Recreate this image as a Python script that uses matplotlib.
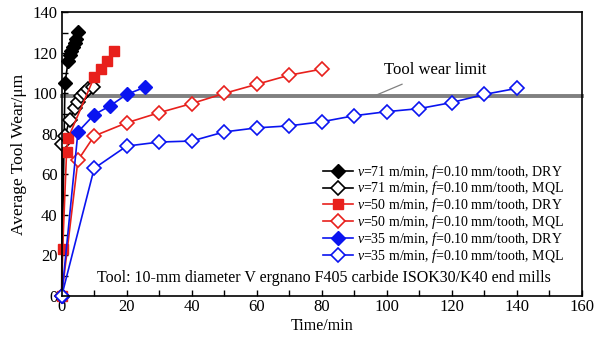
import matplotlib
matplotlib.use("Agg")
import matplotlib.pyplot as plt
from matplotlib.ticker import MultipleLocator

plt.rcParams['font.family'] = ['Liberation Serif', 'DejaVu Serif']
plt.rcParams['mathtext.fontset'] = 'custom'
plt.rcParams['mathtext.rm'] = 'Liberation Serif'
plt.rcParams['mathtext.it'] = 'Liberation Serif:italic'

# v=71 DRY
t71_dry = [0, 1, 2, 2.5, 3, 3.5, 4, 4.5, 5]
w71_dry = [0, 105, 116, 119, 121, 123, 125, 127, 130.5]
# v=71 MQL
t71_mql = [0, 0.2, 1, 2.5, 4, 5, 6, 7, 8, 9.5]
w71_mql = [0, 75, 79, 87, 93, 96, 98.5, 100, 102, 103]
# v=50 DRY
t50_dry = [0, 0.3, 1.5, 2, 10, 12, 14, 16]
w50_dry = [0, 23, 71, 78, 108, 112, 116, 121]
# v=50 MQL
t50_mql = [0, 5, 10, 20, 30, 40, 50, 60, 70, 80]
w50_mql = [0, 67, 79, 85.5, 90.5, 95, 100, 104.5, 109, 112]
# v=35 DRY
t35_dry = [0, 5, 10, 15, 20, 25.5]
w35_dry = [0, 81, 89.5, 94, 99.5, 103]
# v=35 MQL
t35_mql = [0, 10, 20, 30, 40, 50, 60, 70, 80, 90, 100, 110, 120, 130, 140]
w35_mql = [0, 63, 74, 76, 76.5, 81, 83, 84, 86, 89, 91, 92.5, 95.5, 99.5, 102.5]

wear_limit = 98.5

fig = plt.figure(figsize=(5.96, 3.38), dpi=100)
ax = fig.add_axes([0.1035, 0.1243, 0.8725, 0.839])

ax.axhline(wear_limit, color='#808080', lw=2.8, zorder=1)

ms = 7
ax.plot(t71_dry, w71_dry, '-D', color='black', mfc='black', ms=ms, lw=1.2,
        label='$v$=71 m/min, $f$=0.10 mm/tooth, DRY')
ax.plot(t71_mql, w71_mql, '-D', color='black', mfc='white', ms=ms, lw=1.2, mew=1.2,
        label='$v$=71 m/min, $f$=0.10 mm/tooth, MQL')
ax.plot(t50_dry, w50_dry, '-s', color='#e8201c', mfc='#e8201c', ms=ms, lw=1.2,
        label='$v$=50 m/min, $f$=0.10 mm/tooth, DRY')
ax.plot(t50_mql, w50_mql, '-D', color='#e8201c', mfc='white', ms=ms, lw=1.2, mew=1.2,
        label='$v$=50 m/min, $f$=0.10 mm/tooth, MQL')
ax.plot(t35_dry, w35_dry, '-D', color='#0a14f0', mfc='#0a14f0', ms=ms, lw=1.2,
        label='$v$=35 m/min, $f$=0.10 mm/tooth, DRY')
ax.plot(t35_mql, w35_mql, '-D', color='#0a14f0', mfc='white', ms=ms, lw=1.2, mew=1.2,
        label='$v$=35 m/min, $f$=0.10 mm/tooth, MQL')

ax.annotate('Tool wear limit', xy=(95.8, wear_limit), xytext=(115, 111.5),
            ha='center', va='center', fontsize=12,
            arrowprops=dict(arrowstyle='-', color='#808080', lw=0.9, shrinkA=6, shrinkB=0))

ax.text(80.7, 8.9, 'Tool: 10-mm diameter V ergnano F405 carbide ISOK30/K40 end mills',
        fontsize=11.5, ha='center', va='center')

ax.set_xlim(0, 160)
ax.set_ylim(0, 140)
ax.xaxis.set_major_locator(MultipleLocator(20))
ax.xaxis.set_minor_locator(MultipleLocator(10))
ax.yaxis.set_major_locator(MultipleLocator(20))
ax.yaxis.set_minor_locator(MultipleLocator(10))
ax.tick_params(which='both', direction='in', labelsize=12, top=False, right=False, width=1)
ax.tick_params(which='both', length=4)
ax.tick_params(axis='x', pad=2)
ax.tick_params(axis='y', pad=3)
ax.set_xlabel('Time/min', fontsize=11.5, labelpad=2)
ax.set_ylabel('Average Tool Wear/\u03bcm', fontsize=12.5, labelpad=4)
for s in ax.spines.values():
    s.set_linewidth(1.2)

for ln in ax.lines:
    ln.set_clip_on(False)

ax.legend(loc='center left', bbox_to_anchor=(0.5025, 0.29), frameon=False, fontsize=10,
          handlelength=2.15, handletextpad=0.3, labelspacing=-0.08,
          borderpad=0, borderaxespad=0)

fig.savefig('out.png', dpi=100)
